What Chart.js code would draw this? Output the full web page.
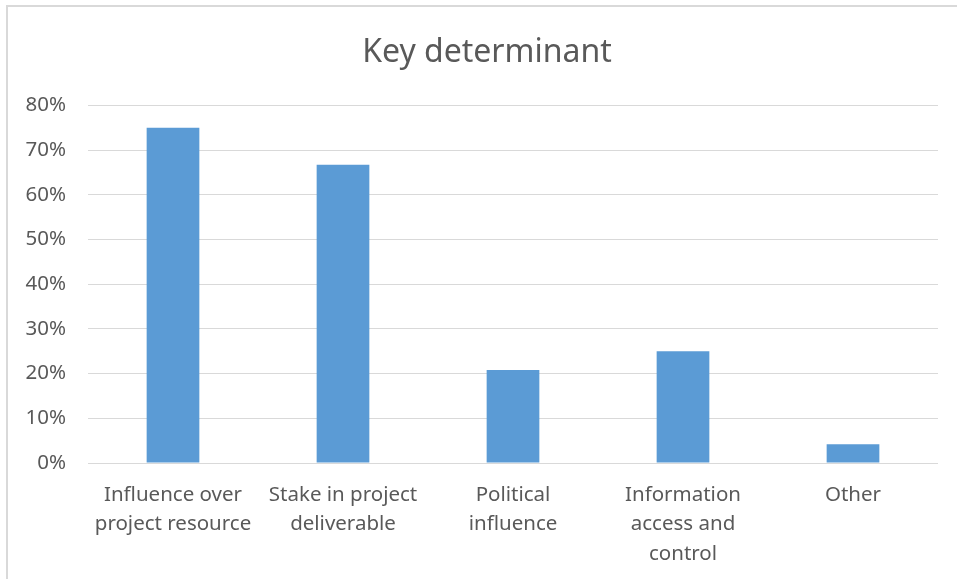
<!DOCTYPE html>
<html>
<head>
<meta charset="utf-8">
<script src="https://cdn.jsdelivr.net/npm/chart.js@4/dist/chart.umd.min.js"></script>
<style>
  html, body { margin: 0; padding: 0; background: #fff; overflow: hidden; }
  #wrap { position: absolute; left: 0; top: 0; width: 957px; height: 579px; }
  #frame { position: absolute; left: 6px; top: 5px; width: 1000px; height: 1000px; border: 2px solid #d9d9d9; pointer-events: none; }
</style>
</head>
<body>
<div id="wrap"><canvas id="c" width="957" height="579"></canvas></div>
<div id="frame"></div>
<script>
const categories = [
  ["Influence over", "project resource"],
  ["Stake in project", "deliverable"],
  ["Political", "influence"],
  ["Information", "access and", "control"],
  ["Other"]
];
const values = [75, 66.7, 20.8, 25, 4.2];
const yTicks = [0, 10, 20, 30, 40, 50, 60, 70, 80];
const chartTitle = "Key determinant";

const FONT = "'Noto Sans', 'Open Sans', sans-serif";
const GREY = "#595959";

const shiftTitle = {
  id: 'shiftTitle',
  afterLayout(chart) {
    const tb = chart.titleBlock;
    if (tb) { tb.left += 14; tb.right += 14; }
  }
};

new Chart(document.getElementById('c'), {
  type: 'bar',
  data: {
    labels: categories,
    datasets: [{
      data: values,
      backgroundColor: '#5b9bd5',
      borderWidth: 0,
      categoryPercentage: 1,
      barPercentage: 0.31
    }]
  },
  plugins: [shiftTitle],
  options: {
    responsive: false,
    animation: false,
    layout: { padding: { left: 8, right: 19, top: 0, bottom: 12 } },
    plugins: {
      legend: { display: false },
      tooltip: { enabled: false },
      title: {
        display: true,
        text: chartTitle,
        color: GREY,
        font: { family: FONT, size: 32, weight: 'normal' },
        padding: { top: 34, bottom: 33 }
      }
    },
    scales: {
      x: {
        grid: { display: false },
        border: { display: false },
        ticks: {
          color: GREY,
          font: { family: FONT, size: 20.5, lineHeight: 1.45 },
          maxRotation: 0,
          autoSkip: false,
          padding: 9
        },
        afterFit: (s) => { s.height = 104; }
      },
      y: {
        min: 0,
        max: 80,
        afterBuildTicks: (s) => { s.ticks = yTicks.map(v => ({ value: v })); },
        grid: { color: '#d9d9d9', lineWidth: 1, drawTicks: false },
        border: { display: false },
        ticks: {
          color: GREY,
          font: { family: FONT, size: 20.5 },
          padding: 22,
          callback: (v) => v + '%'
        },
        afterFit: (s) => { s.width = 80; }
      }
    }
  }
});
</script>
</body>
</html>
